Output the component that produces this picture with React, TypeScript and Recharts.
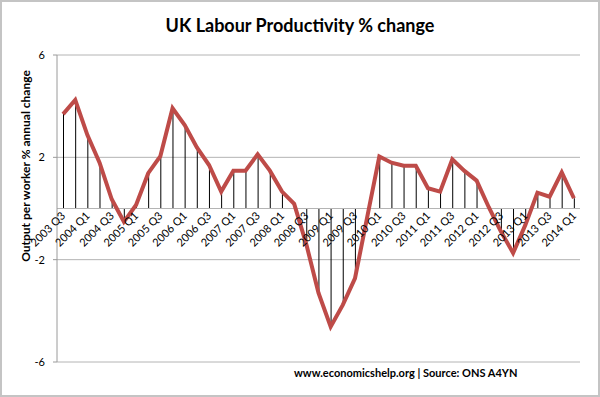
import React from "react";
import { Bar, CartesianGrid, ComposedChart, Line, ReferenceLine, XAxis, YAxis } from "recharts";

const quarters = [
  "2003 Q3", "2003 Q4", "2004 Q1", "2004 Q2", "2004 Q3", "2004 Q4",
  "2005 Q1", "2005 Q2", "2005 Q3", "2005 Q4", "2006 Q1", "2006 Q2",
  "2006 Q3", "2006 Q4", "2007 Q1", "2007 Q2", "2007 Q3", "2007 Q4",
  "2008 Q1", "2008 Q2", "2008 Q3", "2008 Q4", "2009 Q1", "2009 Q2",
  "2009 Q3", "2009 Q4", "2010 Q1", "2010 Q2", "2010 Q3", "2010 Q4",
  "2011 Q1", "2011 Q2", "2011 Q3", "2011 Q4", "2012 Q1", "2012 Q2",
  "2012 Q3", "2012 Q4", "2013 Q1", "2013 Q2", "2013 Q3", "2013 Q4",
  "2014 Q1",
];

const productivity = [
  3.69, 4.24, 2.87, 1.79, 0.36, -0.52,
  0.14, 1.38, 2.05, 3.92, 3.26, 2.39,
  1.7, 0.66, 1.48, 1.48, 2.12, 1.48,
  0.66, 0.18, -1.4, -3.3, -4.62, -3.77,
  -2.73, -0.35, 2.03, 1.79, 1.67, 1.67,
  0.79, 0.66, 1.92, 1.47, 1.09, 0.05,
  -0.9, -1.74, -0.65, 0.62, 0.46, 1.41,
  0.4,
];

const yTicks = [-6, -2, 2, 6];

const data = quarters.map((q, i) => ({ quarter: q, value: productivity[i] }));

const W = 600;
const H = 397;
const TOP = 55;
const BOTTOM = 35;
const PLOT_H = H - TOP - BOTTOM;
const ZERO_Y = TOP + PLOT_H / 2;
const FONT = "Lato, 'Open Sans', sans-serif";

// category labels hang off the zero line, not the bottom of the plot
function QuarterTick(props: any) {
  const { x, payload } = props;
  const ty = ZERO_Y + 8;
  const tx = x + 3;
  return (
    <text
      x={tx}
      y={ty}
      textAnchor="end"
      fontSize={11}
      fontFamily={FONT}
      fill="#000"
      transform={`rotate(-45 ${tx} ${ty})`}
    >
      {payload.value}
    </text>
  );
}

function AxisTitle() {
  return (
    <text
      x={30}
      y={166}
      textAnchor="middle"
      fontSize={12}
      fontWeight="bold"
      fontFamily={FONT}
      fill="#000"
      transform="rotate(-90 30 166)"
    >
      Output per worker % annual change
    </text>
  );
}

export default function App() {
  return (
    <div style={{ position: "absolute", left: 0, top: 0, width: W, height: H, background: "#fff" }}>
      <ComposedChart
        width={W}
        height={H}
        data={data}
        margin={{ top: TOP, right: 20, left: 0, bottom: 5 }}
      >
        <CartesianGrid vertical={false} stroke="#b4b4b4" />
        <XAxis
          dataKey="quarter"
          height={BOTTOM - 5}
          interval={1}
          axisLine={false}
          tickLine={false}
          tick={<QuarterTick />}
        />
        <YAxis
          width={57}
          domain={[-6, 6]}
          ticks={yTicks}
          tickSize={4}
          tickMargin={8}
          stroke="#9a9a9a"
          tick={{ fill: "#000", fontSize: 11, fontFamily: FONT }}
          label={<AxisTitle />}
        />
        <ReferenceLine y={0} stroke="#b4b4b4" />
        <Bar dataKey="value" barSize={1} fill="#000" isAnimationActive={false} />
        <Line
          dataKey="value"
          stroke="#be4b48"
          strokeWidth={4}
          dot={false}
          activeDot={false}
          strokeLinejoin="miter"
          isAnimationActive={false}
        />
      </ComposedChart>
      <div
        style={{
          position: "absolute",
          left: 0,
          top: 14,
          width: W,
          textAlign: "center",
          fontFamily: FONT,
          fontWeight: "bold",
          fontSize: 18,
        }}
      >
        UK Labour Productivity % change
      </div>
      <div
        style={{
          position: "absolute",
          left: 294,
          top: 366,
          fontFamily: FONT,
          fontWeight: "bold",
          fontSize: 11,
        }}
      >
        www.economicshelp.org | Source: ONS A4YN
      </div>
      <div
        style={{
          position: "absolute",
          left: 0,
          top: 0,
          width: W,
          height: H,
          boxSizing: "border-box",
          border: "2px solid #c4c4c4",
          pointerEvents: "none",
        }}
      />
    </div>
  );
}
